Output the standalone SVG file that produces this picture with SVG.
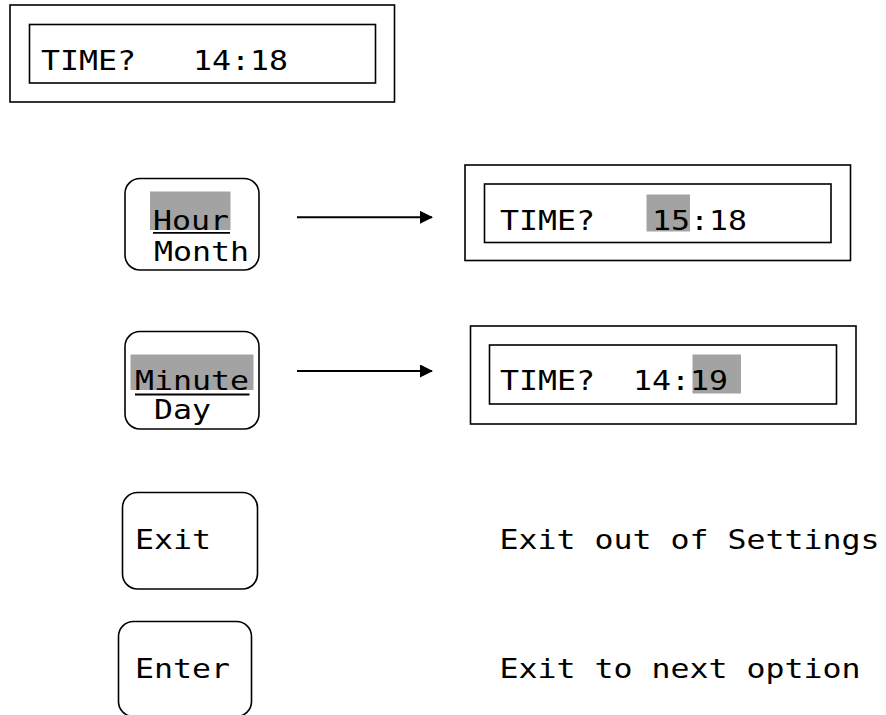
<svg xmlns="http://www.w3.org/2000/svg" width="886" height="715" viewBox="0 0 886 715">
<style>
.frame{fill:none;stroke:#000;stroke-width:1.6}
.btn{fill:#fff;stroke:#000;stroke-width:1.6}
.t{font-family:"DejaVu Sans Mono","Liberation Mono",monospace;font-size:27px;fill:#000;white-space:pre}
.hl{fill:#a3a3a3}
.edge{stroke:#000;stroke-width:2;fill:none}
</style>
<defs>
<marker id="arr" markerWidth="13" markerHeight="13" refX="12" refY="6.5" orient="auto" markerUnits="userSpaceOnUse">
<polygon points="0,0 13,6.5 0,13" fill="#000"/>
</marker>
</defs>
<rect width="886" height="715" fill="#fff"/>

<g id="display-main">
<rect class="frame" x="10" y="5" width="384.5" height="97"/>
<rect class="frame" x="29.5" y="24.5" width="346" height="58.5"/>
<text class="t" x="41" y="69.5" xml:space="preserve" textLength="247" lengthAdjust="spacingAndGlyphs">TIME?   14:18</text>
</g>

<g id="btn-hour">
<rect class="btn" x="125" y="178.5" width="134" height="91.5" rx="15"/>
<rect class="hl" x="150" y="191.5" width="80.5" height="38.5"/>
<text class="t" x="153" y="230" textLength="76" lengthAdjust="spacingAndGlyphs">Hour</text>
<line x1="153" y1="232.8" x2="230" y2="232.8" stroke="#000" stroke-width="1.8"/>
<text class="t" x="154" y="261" textLength="95" lengthAdjust="spacingAndGlyphs">Month</text>
</g>

<g id="display-hour">
<rect class="frame" x="465" y="165" width="385.5" height="95.5"/>
<rect class="frame" x="484.5" y="184" width="346.5" height="58.5"/>
<rect class="hl" x="646.5" y="194.5" width="43.5" height="37"/>
<text class="t" x="500" y="230" xml:space="preserve" textLength="247" lengthAdjust="spacingAndGlyphs">TIME?   15:18</text>
</g>

<g id="btn-minute">
<rect class="btn" x="125" y="331.5" width="134" height="97.5" rx="15"/>
<rect class="hl" x="130.5" y="354.5" width="123" height="35.5"/>
<text class="t" x="135" y="390" textLength="114" lengthAdjust="spacingAndGlyphs">Minute</text>
<line x1="135" y1="394.5" x2="249.5" y2="394.5" stroke="#000" stroke-width="1.8"/>
<text class="t" x="154" y="419" textLength="57" lengthAdjust="spacingAndGlyphs">Day</text>
</g>

<g id="display-minute">
<rect class="frame" x="470.5" y="326" width="385.5" height="98"/>
<rect class="frame" x="489.5" y="345" width="347" height="59"/>
<rect class="hl" x="692.5" y="354.5" width="48.5" height="39"/>
<text class="t" x="500" y="390" xml:space="preserve" textLength="228" lengthAdjust="spacingAndGlyphs">TIME?  14:19</text>
</g>

<g id="btn-exit">
<rect class="btn" x="122.5" y="492.5" width="135" height="96.5" rx="15"/>
<text class="t" x="135" y="549" textLength="76" lengthAdjust="spacingAndGlyphs">Exit</text>
</g>

<g id="label-exit">
<text class="t" x="499.5" y="549" xml:space="preserve" textLength="380" lengthAdjust="spacingAndGlyphs">Exit out of Settings</text>
</g>

<g id="btn-enter">
<rect class="btn" x="118.5" y="621.5" width="133" height="95" rx="15"/>
<text class="t" x="135" y="677.5" textLength="95" lengthAdjust="spacingAndGlyphs">Enter</text>
</g>

<g id="label-enter">
<text class="t" x="499.5" y="677.5" xml:space="preserve" textLength="361" lengthAdjust="spacingAndGlyphs">Exit to next option</text>
</g>

<g id="connectors">
<line class="edge" x1="297" y1="217.3" x2="432" y2="217.3" marker-end="url(#arr)"/>
<line class="edge" x1="297" y1="371" x2="432" y2="371" marker-end="url(#arr)"/>
</g>
</svg>
